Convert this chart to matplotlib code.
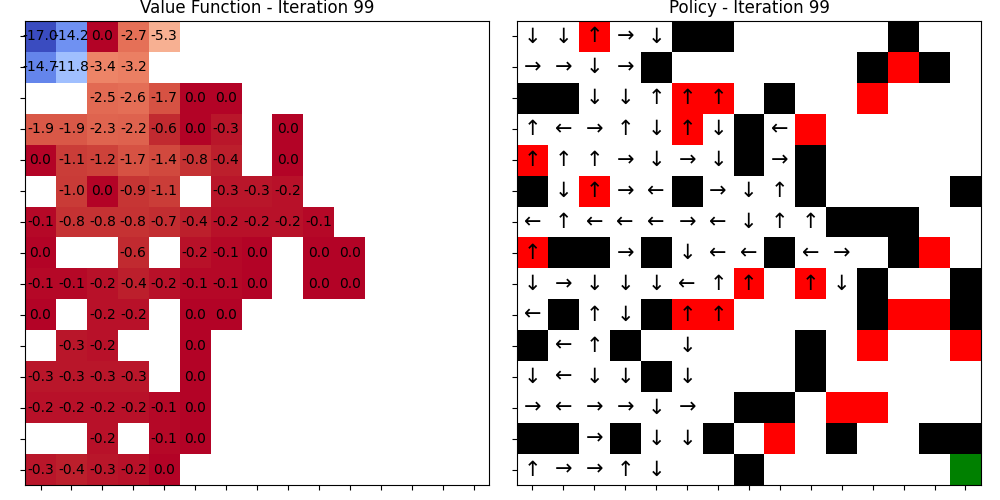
import numpy as np
import matplotlib
matplotlib.use("Agg")
import matplotlib.pyplot as plt
from matplotlib.colors import ListedColormap

N = np.nan
# Value function (rows top to bottom), NaN = not shown
values = [
    [-17.0, -14.2, 0.0, -2.7, -5.3, N, N, N, N, N, N, N, N, N, N],
    [-14.7, -11.8, -3.4, -3.2, N, N, N, N, N, N, N, N, N, N, N],
    [N, N, -2.5, -2.6, -1.7, 0.0, 0.0, N, N, N, N, N, N, N, N],
    [-1.9, -1.9, -2.3, -2.2, -0.6, 0.0, -0.3, N, 0.0, N, N, N, N, N, N],
    [0.0, -1.1, -1.2, -1.7, -1.4, -0.8, -0.4, N, 0.0, N, N, N, N, N, N],
    [N, -1.0, 0.0, -0.9, -1.1, N, -0.3, -0.3, -0.2, N, N, N, N, N, N],
    [-0.1, -0.8, -0.8, -0.8, -0.7, -0.4, -0.2, -0.2, -0.2, -0.1, N, N, N, N, N],
    [0.0, N, N, -0.6, N, -0.2, -0.1, 0.0, N, 0.0, 0.0, N, N, N, N],
    [-0.1, -0.1, -0.2, -0.4, -0.2, -0.1, -0.1, 0.0, N, 0.0, 0.0, N, N, N, N],
    [0.0, N, -0.2, -0.2, N, 0.0, 0.0, N, N, N, N, N, N, N, N],
    [N, -0.3, -0.2, N, N, 0.0, N, N, N, N, N, N, N, N, N],
    [-0.3, -0.3, -0.3, -0.3, N, 0.0, N, N, N, N, N, N, N, N, N],
    [-0.2, -0.2, -0.2, -0.2, -0.1, 0.0, N, N, N, N, N, N, N, N, N],
    [N, N, -0.2, N, -0.1, 0.0, N, N, N, N, N, N, N, N, N],
    [-0.3, -0.4, -0.3, -0.2, 0.0, N, N, N, N, N, N, N, N, N, N],
]

# Grid cell types: '.' free, '#' wall, 'X' trap, 'G' goal
cells = [
    "..X..##.....#..",
    "....#......#X#.",
    "##...XX.#..X...",
    ".....X.#.X.....",
    "X......#.#.....",
    "#.X..#...#....#",
    "..........###..",
    "X##.#...#...#X.",
    ".......X.X.#..#",
    ".#..#XX....#XX#",
    "#..#.....#.X..X",
    "....#....#.....",
    ".......##.XX...",
    "##.#..#.X.#..##",
    ".......#......G",
]

# Policy: U/D/L/R, '.' = none
policy = [
    "DDURD..........",
    "RRDR...........",
    "..DDUUU........",
    "ULRUDUD.L......",
    "UUURDRD.R......",
    ".DURL.RDU......",
    "LULLLRLDUU.....",
    "U..R.DLL.LR....",
    "DRDDDLUU.UD....",
    "L.UD.UU........",
    ".LU..D.........",
    "DLDD.D.........",
    "RLRRDR.........",
    "..R.DD.........",
    "URRUD..........",
]

iteration = 99
arrow_chars = {"U": "\u2191", "D": "\u2193", "L": "\u2190", "R": "\u2192"}
cell_codes = {".": 0, "#": 1, "X": 2, "G": 3}

V = np.array(values, dtype=float)
C = np.array([[cell_codes[ch] for ch in row] for row in cells])
n = V.shape[0]

fig, (ax1, ax2) = plt.subplots(1, 2, figsize=(10, 5), dpi=100)
fig.subplots_adjust(left=0.025, right=0.981, bottom=0.03, top=0.958, wspace=0.06)

ax1.imshow(V, cmap="coolwarm", vmin=np.nanmin(V), vmax=np.nanmax(V))
for i in range(n):
    for j in range(n):
        if not np.isnan(V[i, j]):
            ax1.text(j, i, f"{V[i, j]:.1f}", ha="center", va="center",
                     color="black", fontsize=10)
ax1.set_title(f"Value Function - Iteration {iteration}")
ax1.set_xticks(range(n))
ax1.set_yticks(range(n))
ax1.set_xticklabels([])
ax1.set_yticklabels([])

cmap2 = ListedColormap(["white", "black", "red", "green"])
ax2.imshow(C, cmap=cmap2, vmin=-0.5, vmax=3.5)
for i in range(n):
    for j in range(n):
        ch = policy[i][j]
        if ch in arrow_chars:
            ax2.text(j, i, arrow_chars[ch], ha="center", va="center",
                     color="black", fontsize=15)
ax2.set_title(f"Policy - Iteration {iteration}")
ax2.set_xticks(range(n))
ax2.set_yticks(range(n))
ax2.set_xticklabels([])
ax2.set_yticklabels([])

fig.savefig("out.png", dpi=100)
